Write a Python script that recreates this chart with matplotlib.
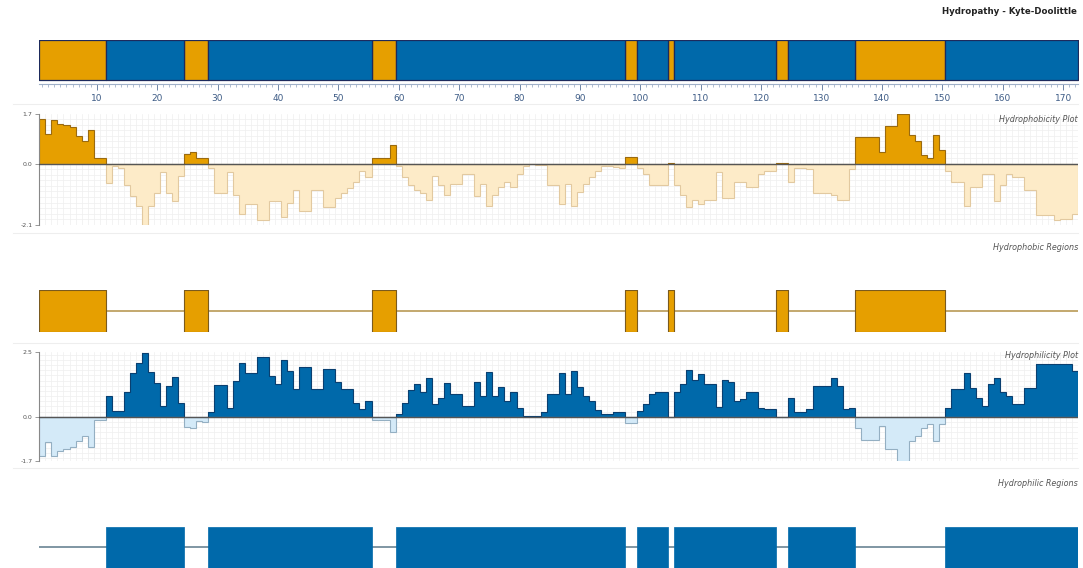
import numpy as np
import matplotlib
matplotlib.use("Agg")
import matplotlib.pyplot as plt

# ---- data: per-residue window scores (residues 1..172) ----
hydrophobicity = [
    1.54, 1.01, 1.51, 1.36, 1.31, 1.26, 0.94, 0.76, 1.16, 0.19,
    0.19, -0.66, -0.09, -0.14, -0.74, -1.12, -1.45, -2.10, -1.45, -1.01,
    -0.27, -1.01, -1.28, -0.41, 0.34, 0.40, 0.21, 0.21, -0.14, -1.01,
    -1.01, -0.30, -1.07, -1.72, -1.39, -1.39, -1.93, -1.93, -1.28, -1.28,
    -1.83, -1.34, -0.90, -1.61, -1.61, -0.90, -0.90, -1.50, -1.50, -1.17,
    -1.01, -0.85, -0.63, -0.25, -0.47, 0.20, 0.20, 0.18, 0.63, -0.07,
    -0.47, -0.74, -0.90, -1.01, -1.23, -0.41, -0.74, -1.07, -0.68, -0.68,
    -0.36, -0.36, -1.12, -0.68, -1.45, -1.07, -0.79, -0.63, -0.79, -0.36,
    -0.09, -0.02, -0.03, -0.05, -0.74, -0.74, -1.39, -0.68, -1.45, -0.96,
    -0.68, -0.47, -0.25, -0.09, -0.09, -0.11, -0.14, 0.24, 0.24, -0.14,
    -0.36, -0.74, -0.74, -0.74, 0.03, -0.74, -1.07, -1.50, -1.23, -1.39,
    -1.23, -1.23, -0.30, -1.17, -1.17, -0.63, -0.63, -0.79, -0.79, -0.36,
    -0.25, -0.25, 0.02, 0.02, -0.63, -0.14, -0.14, -0.20, -1.01, -1.01,
    -1.01, -1.07, -1.23, -1.23, -0.20, 0.91, 0.91, 0.91, 0.91, 0.40,
    1.28, 1.28, 1.70, 1.70, 0.97, 0.78, 0.28, 0.21, 0.97, 0.47,
    -0.25, -0.63, -0.63, -1.45, -0.79, -0.79, -0.36, -0.36, -1.28, -0.74,
    -0.36, -0.47, -0.47, -0.90, -0.90, -1.77, -1.77, -1.77, -1.93, -1.88,
    -1.88, -1.72,
]

hydrophilicity = [
    -1.50, -0.96, -1.50, -1.31, -1.24, -1.15, -0.92, -0.73, -1.15, -0.12,
    -0.12, 0.81, 0.21, 0.23, 0.97, 1.71, 2.09, 2.47, 1.73, 1.32,
    0.40, 1.19, 1.54, 0.55, -0.38, -0.41, -0.15, -0.18, 0.19, 1.22,
    1.22, 0.36, 1.38, 2.09, 1.71, 1.71, 2.31, 2.31, 1.58, 1.26,
    2.19, 1.77, 1.06, 1.92, 1.92, 1.09, 1.09, 1.83, 1.83, 1.36,
    1.06, 1.06, 0.55, 0.29, 0.62, -0.13, -0.13, -0.13, -0.60, 0.13,
    0.55, 1.03, 1.26, 0.97, 1.49, 0.49, 0.74, 1.32, 0.87, 0.87,
    0.42, 0.42, 1.36, 0.81, 1.74, 0.81, 1.15, 0.62, 0.94, 0.36,
    0.04, 0.04, 0.04, 0.17, 0.87, 0.87, 1.71, 0.87, 1.77, 1.15,
    0.81, 0.62, 0.26, 0.13, 0.13, 0.17, 0.17, -0.22, -0.22, 0.23,
    0.49, 0.87, 0.94, 0.94, 0.00, 0.94, 1.26, 1.79, 1.41, 1.67,
    1.26, 1.26, 0.38, 1.41, 1.36, 0.62, 0.68, 0.97, 0.97, 0.36,
    0.32, 0.32, -0.02, -0.02, 0.74, 0.19, 0.19, 0.29, 1.19, 1.19,
    1.19, 1.49, 1.19, 0.29, 0.36, -0.41, -0.88, -0.88, -0.88, -0.35,
    -1.24, -1.24, -1.72, -1.72, -0.92, -0.73, -0.41, -0.28, -0.92, -0.28,
    0.36, 1.06, 1.06, 1.71, 1.13, 0.74, 0.42, 1.26, 1.51, 0.94,
    0.81, 0.49, 0.49, 1.13, 1.13, 2.03, 2.03, 2.03, 2.03, 2.03,
    2.03, 1.77,
]

residue_ticks = [10, 20, 30, 40, 50, 60, 70, 80, 90, 100, 110, 120, 130, 140, 150, 160, 170]
phob_ticks = [-2.1, 0.0, 1.7]
phil_ticks = [-1.7, 0.0, 2.5]

# ---- styling ----
ORANGE = "#E69F00"
ORANGE_EDGE = "#9a6a10"
ORANGE_LIGHT = "#FDEBC8"
ORANGE_LIGHT_EDGE = "#E2C9A0"
BLUE = "#0069AA"
BLUE_EDGE = "#0a3f70"
BLUE_LIGHT = "#D4EAF8"
BLUE_LIGHT_EDGE = "#94AFC2"
NAVY = "#1d2a5c"
GRID = "#efefef"

W, H = 1083, 568
fig = plt.figure(figsize=(W / 100, H / 100), dpi=100)
fig.patch.set_facecolor("white")

X0, X1 = 39.3, 1078.3
n = len(hydrophobicity)
edges = np.arange(0.5, n + 1.5, 1.0)
xlim = (0.5, n + 0.5)


def axes_px(x0, y0, x1, y1):
    return fig.add_axes([x0 / W, 1 - y1 / H, (x1 - x0) / W, (y1 - y0) / H])


def runs(mask):
    """Return (start_residue, length) of consecutive True runs."""
    out = []
    i = 0
    while i < len(mask):
        if mask[i]:
            j = i
            while j + 1 < len(mask) and mask[j + 1]:
                j += 1
            out.append((i + 1, j - i + 1))
            i = j + 1
        else:
            i += 1
    return out


phob = np.array(hydrophobicity)
phil = np.array(hydrophilicity)
phob_runs = runs(phob > 0)
phil_runs = runs(phil > 0)

# faint separators between panels
for yy in (104, 233, 343, 468):
    fig.add_artist(plt.Line2D([0.012, 0.995], [1 - yy / H, 1 - yy / H],
                              color="#eeeeee", lw=0.8))

# ---- top sequence bar ----
ax = axes_px(X0, 40, X1, 84)
ax.set_xlim(*xlim)
ax.set_ylim(-0.1, 1.0)
segs = [(s - 0.5, l, ORANGE) for s, l in phob_runs]
covered = np.zeros(n, bool)
for s, l in phob_runs:
    covered[s - 1:s - 1 + l] = True
segs += [(s - 0.5, l, BLUE) for s, l in runs(~covered)]
for x, w, c in segs:
    ax.broken_barh([(x, w)], (0, 1), facecolors=c, edgecolors=NAVY, linewidth=0.9)
for sp in ("top", "left", "right"):
    ax.spines[sp].set_visible(False)
ax.spines["bottom"].set_color("#9fb0c8")
ax.spines["bottom"].set_linewidth(0.8)
ax.set_yticks([])
ax.set_xticks(residue_ticks)
ax.set_xticks(np.arange(1, n + 1), minor=True)
ax.tick_params(axis="x", which="major", length=4, width=0.7, color="#6f86a8",
               labelsize=6.5, labelcolor="#3e5c86", pad=3)
ax.tick_params(axis="x", which="minor", length=2, width=0.5, color="#8fa2bf")
ax.patch.set_alpha(0)

fig.text(1077 / W, 1 - 12 / H, "Hydropathy - Kyte-Doolittle", ha="right", va="center",
         fontsize=6.2, fontweight="bold", color="#222222")


def profile(ax, vals, ylim, ticks, dark, dark_edge, light, light_edge, hstep):
    ax.set_xlim(*xlim)
    ax.set_ylim(*ylim)
    for e in edges:
        ax.axvline(e, color=GRID, lw=0.5, zorder=0)
    for yv in np.arange(0, ylim[1] + 1e-9, hstep):
        ax.axhline(yv, color=GRID, lw=0.5, zorder=0)
    for yv in np.arange(0, ylim[0] - 1e-9, -hstep):
        ax.axhline(yv, color=GRID, lw=0.5, zorder=0)
    pos = np.where(vals > 0, vals, 0.0)
    neg = np.where(vals < 0, vals, 0.0)
    ax.stairs(neg, edges, baseline=0, fill=True, facecolor=light,
              edgecolor=light, zorder=2)
    ax.stairs(neg, edges, baseline=0, color=light_edge, lw=0.8, zorder=2.1)
    ax.stairs(pos, edges, baseline=0, fill=True, facecolor=dark,
              edgecolor=dark, zorder=2)
    ax.stairs(pos, edges, baseline=0, color=dark_edge, lw=0.8, zorder=2.1)
    ax.axhline(0, color="#555555", lw=1.0, zorder=3)
    for sp in ("top", "right", "bottom"):
        ax.spines[sp].set_visible(False)
    ax.spines["left"].set_color("#888888")
    ax.spines["left"].set_linewidth(0.8)
    ax.set_xticks([])
    ax.set_yticks(ticks)
    ax.set_yticklabels([f"{t:.1f}" for t in ticks])
    ax.tick_params(axis="y", length=3, width=0.6, color="#888888",
                   labelsize=4.5, labelcolor="#555555", pad=2)


# ---- hydrophobicity profile ----
ax1 = axes_px(X0, 114, X1, 225)
profile(ax1, phob, (-2.1, 1.7), phob_ticks, ORANGE, ORANGE_EDGE,
        ORANGE_LIGHT, ORANGE_LIGHT_EDGE, 0.19)

# ---- hydrophobic regions ----
ax2 = axes_px(X0, 290, X1, 332)
ax2.set_xlim(*xlim)
ax2.set_ylim(0, 1)
ax2.plot(xlim, [0.5, 0.5], color="#b99a55", lw=1.2, zorder=1)
ax2.broken_barh([(s - 0.5, l) for s, l in phob_runs], (0, 1), facecolors=ORANGE,
                edgecolors="#7a5a1e", linewidth=0.8, zorder=2)
ax2.axis("off")

# ---- hydrophilicity profile ----
ax3 = axes_px(X0, 352, X1, 461)
profile(ax3, phil, (-1.7, 2.5), phil_ticks, BLUE, BLUE_EDGE,
        BLUE_LIGHT, BLUE_LIGHT_EDGE, 0.2)

# ---- hydrophilic regions ----
ax4 = axes_px(X0, 527, X1, 568)
ax4.set_xlim(*xlim)
ax4.set_ylim(0, 1)
ax4.plot(xlim, [0.52, 0.52], color="#6a8494", lw=1.2, zorder=1)
ax4.broken_barh([(s - 0.5, l) for s, l in phil_runs], (0, 1), facecolors=BLUE,
                edgecolors=BLUE, linewidth=0.5, zorder=2)
ax4.axis("off")

# panel captions
for yy, txt in ((120, "Hydrophobicity Plot"), (247, "Hydrophobic Regions"),
                (356, "Hydrophilicity Plot"), (484, "Hydrophilic Regions")):
    fig.text(1078 / W, 1 - yy / H, txt, ha="right", va="center", fontsize=5.8,
             style="italic", color="#555555")

fig.savefig("out.png", dpi=100, facecolor="white")
